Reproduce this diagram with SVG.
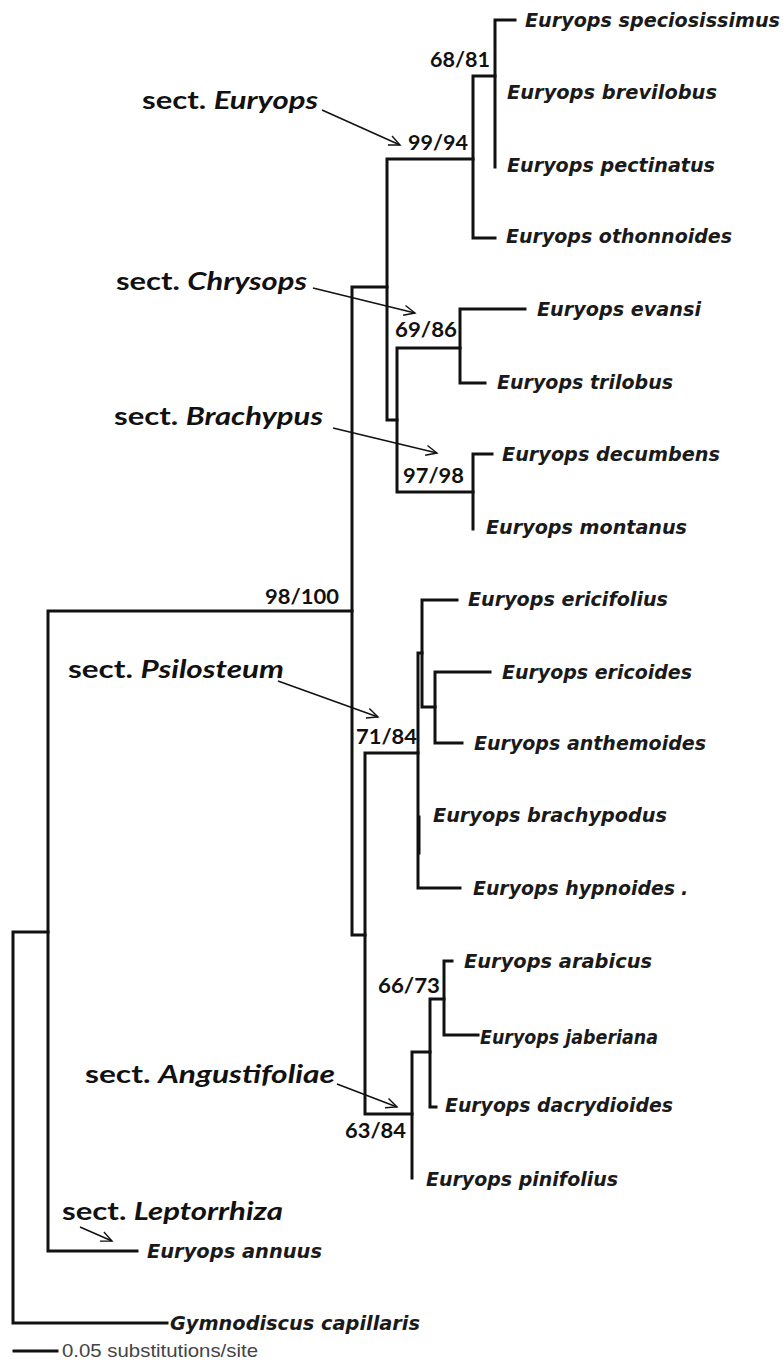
<svg xmlns="http://www.w3.org/2000/svg" width="783" height="1364" viewBox="0 0 783 1364">
<defs>
<marker id="ah" markerUnits="userSpaceOnUse" markerWidth="14" markerHeight="12" refX="12" refY="6" orient="auto">
<path d="M1,1 L12,6 L1,11" fill="none" stroke="#111" stroke-width="1.4"/>
</marker>
<style>
.br{fill:none;stroke:#111;stroke-width:3;stroke-linecap:square}
.ar{fill:none;stroke:#111;stroke-width:1.5}
.sp{font-family:"DejaVu Sans",Verdana,sans-serif;font-weight:bold;font-style:italic;font-size:19px;fill:#1a1a1a}
.sv{font-family:Lato,"Open Sans",sans-serif;font-weight:bold;font-size:20px;fill:#111}
.sc{font-family:Lato,"Open Sans",sans-serif;font-weight:bold;font-size:25px;fill:#111}
.sc tspan.g{font-style:italic}
.scale{font-family:"Liberation Sans",Arial,sans-serif;font-size:19px;fill:#444}
</style>
</defs>
<rect width="783" height="1364" fill="#fff"/>

<g id="connectors">
<path class="br" d="M13,932 V1323 M13,932 H48 M13,1323 H167"/>
<path class="br" d="M48,611 V1251 M48,611 H352 M48,1251 H137"/>
<path class="br" d="M352,287 V935 M352,287 H387 M352,935 H365"/>
<path class="br" d="M387,159 V420 M387,159 H473 M387,420 H397"/>
<path class="br" d="M473,76 V238 M473,76 H495 M473,238 H495"/>
<path class="br" d="M495,20 V167 M495,20 H515"/>
<path class="br" d="M397,348 V492 M397,348 H460 M397,492 H473"/>
<path class="br" d="M460,309 V383 M460,309 H525 M460,383 H485"/>
<path class="br" d="M473,454 V529 M473,454 H492"/>
<path class="br" d="M365,753 V1114 M365,753 H418 M365,1114 H412"/>
<path class="br" d="M418,653 V888 M418,653 H422 M418,888 H460"/>
<path class="br" d="M419,817 V853"/>
<path class="br" d="M422,600 V707 M422,600 H457 M422,707 H435"/>
<path class="br" d="M435,672 V743 M435,672 H490 M435,743 H462"/>
<path class="br" d="M412,1052 V1178 M412,1052 H430"/>
<path class="br" d="M430,999 V1107 M430,999 H444 M430,1107 H436"/>
<path class="br" d="M444,961 V1035 M444,961 H452 M444,1035 H478"/>
<path class="ar" d="M322,110 L400,145" marker-end="url(#ah)"/>
<path class="ar" d="M313,288 L415,313" marker-end="url(#ah)"/>
<path class="ar" d="M333,428 L437,453" marker-end="url(#ah)"/>
<path class="ar" d="M278,681 L378,717" marker-end="url(#ah)"/>
<path class="ar" d="M337,1084 L397,1107" marker-end="url(#ah)"/>
<path class="ar" d="M80,1227 L112,1241" marker-end="url(#ah)"/>
</g>

<g id="taxa">
<g id="t-speciosissimus"><text class="sp" x="525" y="27" textLength="255" lengthAdjust="spacingAndGlyphs">Euryops speciosissimus</text></g>
<g id="t-brevilobus"><text class="sp" x="507" y="99" textLength="210" lengthAdjust="spacingAndGlyphs">Euryops brevilobus</text></g>
<g id="t-pectinatus"><text class="sp" x="507" y="172" textLength="208" lengthAdjust="spacingAndGlyphs">Euryops pectinatus</text></g>
<g id="t-othonnoides"><text class="sp" x="506" y="243" textLength="226" lengthAdjust="spacingAndGlyphs">Euryops othonnoides</text></g>
<g id="t-evansi"><text class="sp" x="537" y="316" textLength="164" lengthAdjust="spacingAndGlyphs">Euryops evansi</text></g>
<g id="t-trilobus"><text class="sp" x="497" y="389" textLength="176" lengthAdjust="spacingAndGlyphs">Euryops trilobus</text></g>
<g id="t-decumbens"><text class="sp" x="502" y="461" textLength="218" lengthAdjust="spacingAndGlyphs">Euryops decumbens</text></g>
<g id="t-montanus"><text class="sp" x="486" y="534" textLength="201" lengthAdjust="spacingAndGlyphs">Euryops montanus</text></g>
<g id="t-ericifolius"><text class="sp" x="468" y="606" textLength="200" lengthAdjust="spacingAndGlyphs">Euryops ericifolius</text></g>
<g id="t-ericoides"><text class="sp" x="502" y="679" textLength="190" lengthAdjust="spacingAndGlyphs">Euryops ericoides</text></g>
<g id="t-anthemoides"><text class="sp" x="474" y="750" textLength="232" lengthAdjust="spacingAndGlyphs">Euryops anthemoides</text></g>
<g id="t-brachypodus"><text class="sp" x="433" y="822" textLength="234" lengthAdjust="spacingAndGlyphs">Euryops brachypodus</text></g>
<g id="t-hypnoides"><text class="sp" x="473" y="895" textLength="202" lengthAdjust="spacingAndGlyphs">Euryops hypnoides</text><text class="sp" x="681" y="895" font-size="14">.</text></g>
<g id="t-arabicus"><text class="sp" x="464" y="968" textLength="188" lengthAdjust="spacingAndGlyphs">Euryops arabicus</text></g>
<g id="t-jaberiana"><text class="sp" x="480" y="1044" textLength="178" lengthAdjust="spacingAndGlyphs">Euryops jaberiana</text></g>
<g id="t-dacrydioides"><text class="sp" x="445" y="1112" textLength="228" lengthAdjust="spacingAndGlyphs">Euryops dacrydioides</text></g>
<g id="t-pinifolius"><text class="sp" x="426" y="1186" textLength="192" lengthAdjust="spacingAndGlyphs">Euryops pinifolius</text></g>
<g id="t-annuus"><text class="sp" x="147" y="1258" textLength="175" lengthAdjust="spacingAndGlyphs">Euryops annuus</text></g>
<g id="t-gymnodiscus"><text class="sp" x="170" y="1330" textLength="250" lengthAdjust="spacingAndGlyphs">Gymnodiscus capillaris</text></g>
</g>

<g id="support">
<text class="sv" x="430" y="67" textLength="60" lengthAdjust="spacingAndGlyphs">68/81</text>
<text class="sv" x="408" y="150" textLength="60" lengthAdjust="spacingAndGlyphs">99/94</text>
<text class="sv" x="395" y="337" textLength="62" lengthAdjust="spacingAndGlyphs">69/86</text>
<text class="sv" x="403" y="483" textLength="61" lengthAdjust="spacingAndGlyphs">97/98</text>
<text class="sv" x="265" y="604" textLength="74" lengthAdjust="spacingAndGlyphs">98/100</text>
<text class="sv" x="356" y="744" textLength="61" lengthAdjust="spacingAndGlyphs">71/84</text>
<text class="sv" x="378" y="993" textLength="62" lengthAdjust="spacingAndGlyphs">66/73</text>
<text class="sv" x="345" y="1138" textLength="61" lengthAdjust="spacingAndGlyphs">63/84</text>
</g>

<g id="sections">
<g id="s-euryops"><text class="sc" x="142" y="109" textLength="176" lengthAdjust="spacingAndGlyphs">sect. <tspan class="g">Euryops</tspan></text></g>
<g id="s-chrysops"><text class="sc" x="116" y="290" textLength="191" lengthAdjust="spacingAndGlyphs">sect. <tspan class="g">Chrysops</tspan></text></g>
<g id="s-brachypus"><text class="sc" x="114" y="425" textLength="209" lengthAdjust="spacingAndGlyphs">sect. <tspan class="g">Brachypus</tspan></text></g>
<g id="s-psilosteum"><text class="sc" x="68" y="678" textLength="216" lengthAdjust="spacingAndGlyphs">sect. <tspan class="g">Psilosteum</tspan></text></g>
<g id="s-angustifoliae"><text class="sc" x="85" y="1083" textLength="250" lengthAdjust="spacingAndGlyphs">sect. <tspan class="g">Angustifoliae</tspan></text></g>
<g id="s-leptorrhiza"><text class="sc" x="62" y="1220" textLength="221" lengthAdjust="spacingAndGlyphs">sect. <tspan class="g">Leptorrhiza</tspan></text></g>
</g>

<g id="scalebar">
<path class="br" d="M14,1351 H57" stroke-width="2.5"/>
<text class="scale" x="62" y="1357" textLength="196" lengthAdjust="spacingAndGlyphs">0.05 substitutions/site</text>
</g>
</svg>
